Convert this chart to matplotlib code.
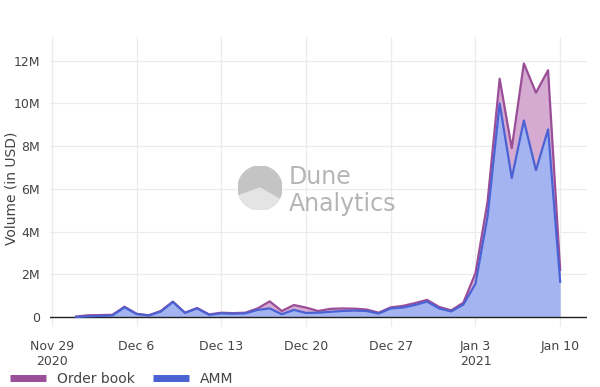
import matplotlib
matplotlib.use('Agg')
import matplotlib.pyplot as plt
import matplotlib.dates as mdates
from matplotlib.lines import Line2D
from matplotlib.patches import Circle, Wedge
import pandas as pd

plt.rcParams['font.family'] = ['DejaVu Sans']

# daily volume, millions of USD
dates = pd.date_range('2020-12-01', '2021-01-10', freq='D')
amm = [0.00, 0.03, 0.05, 0.07, 0.45, 0.14, 0.07, 0.25, 0.70, 0.19,
       0.40, 0.10, 0.17, 0.15, 0.17, 0.33, 0.40, 0.13, 0.33, 0.19,
       0.20, 0.24, 0.28, 0.30, 0.28, 0.16, 0.40, 0.44, 0.56, 0.72,
       0.40, 0.26, 0.58, 1.55, 4.70, 10.00, 6.50, 9.20, 6.87, 8.78, 1.65]
order_book = [0.02, 0.05, 0.04, 0.03, 0.03, 0.01, 0.01, 0.03, 0.02, 0.01,
              0.02, 0.02, 0.03, 0.03, 0.03, 0.07, 0.33, 0.15, 0.23, 0.25,
              0.08, 0.14, 0.12, 0.09, 0.07, 0.04, 0.05, 0.08, 0.09, 0.08,
              0.07, 0.05, 0.09, 0.50, 0.70, 1.15, 1.40, 2.67, 3.63, 2.77, 0.55]

tick_dates = ['2020-11-29', '2020-12-06', '2020-12-13', '2020-12-20',
              '2020-12-27', '2021-01-03', '2021-01-10']
tick_labels = ['Nov 29\n2020', 'Dec 6', 'Dec 13', 'Dec 20', 'Dec 27', 'Jan 3\n2021', 'Jan 10']

amm_m = [v * 1e6 for v in amm]
total_m = [(a + o) * 1e6 for a, o in zip(amm, order_book)]

ob_line, ob_fill = '#9a4e98', '#d6abd2'
amm_line, amm_fill = '#4a62d4', '#a3b4f1'

fig = plt.figure(figsize=(6, 3.87), dpi=100)
ax = fig.add_axes([0.083, 0.155, 0.895, 0.749])

ax.fill_between(dates, amm_m, total_m, color=ob_fill, lw=0)
ax.fill_between(dates, 0, amm_m, color=amm_fill, lw=0)
ax.plot(dates, total_m, color=ob_line, lw=1.6)
ax.plot(dates, amm_m, color=amm_line, lw=1.6)
ax.axhline(0, color='#222222', lw=1, zorder=1.5)

x0 = mdates.date2num(pd.Timestamp('2020-11-29'))
ax.set_xlim(x0 - 0.17, x0 + 44.2)
ax.set_ylim(-0.47e6, 13.1e6)

ax.set_xticks([mdates.date2num(pd.Timestamp(d)) for d in tick_dates])
ax.set_xticklabels(tick_labels)
ax.set_yticks([0, 2e6, 4e6, 6e6, 8e6, 10e6, 12e6])
ax.set_yticklabels(['0', '2M', '4M', '6M', '8M', '10M', '12M'])
ax.tick_params(length=0, labelsize=9, colors='#444444', pad=7)
ax.tick_params(axis='x', pad=9)
ax.grid(True, color='#ebebeb', lw=0.9)
ax.set_axisbelow(True)
for s in ax.spines.values():
    s.set_visible(False)
ax.set_ylabel('Volume (in USD)', fontsize=10, color='#444444', va='center')
ax.yaxis.set_label_coords(-0.072, 0.48)

# watermark
ax.text(0.445, 0.495, 'Dune', transform=ax.transAxes, fontsize=17, color='#b5b5b5')
ax.text(0.445, 0.40, 'Analytics', transform=ax.transAxes, fontsize=17, color='#b5b5b5')
lax = fig.add_axes([238 / 600, 1 - 210 / 387, 44 / 600, 44 / 387])
lax.set_xlim(-1, 1)
lax.set_ylim(-1, 1)
lax.set_aspect('equal')
lax.axis('off')
lax.add_patch(Circle((0, 0), 1, color='#c4c4c4'))
lax.add_patch(Wedge((0, 0), 1, 200, 330, color='#e4e4e4'))

handles = [Line2D([], [], color=ob_line, lw=5, solid_capstyle='butt'),
           Line2D([], [], color=amm_line, lw=5, solid_capstyle='butt')]
fig.legend(handles, ['Order book', 'AMM'], loc='center left', bbox_to_anchor=(-0.005, 0.02),
           ncol=2, frameon=False, fontsize=10, handlelength=2.6, columnspacing=1.3,
           labelcolor='#444444')

fig.savefig('out.png', dpi=100)
